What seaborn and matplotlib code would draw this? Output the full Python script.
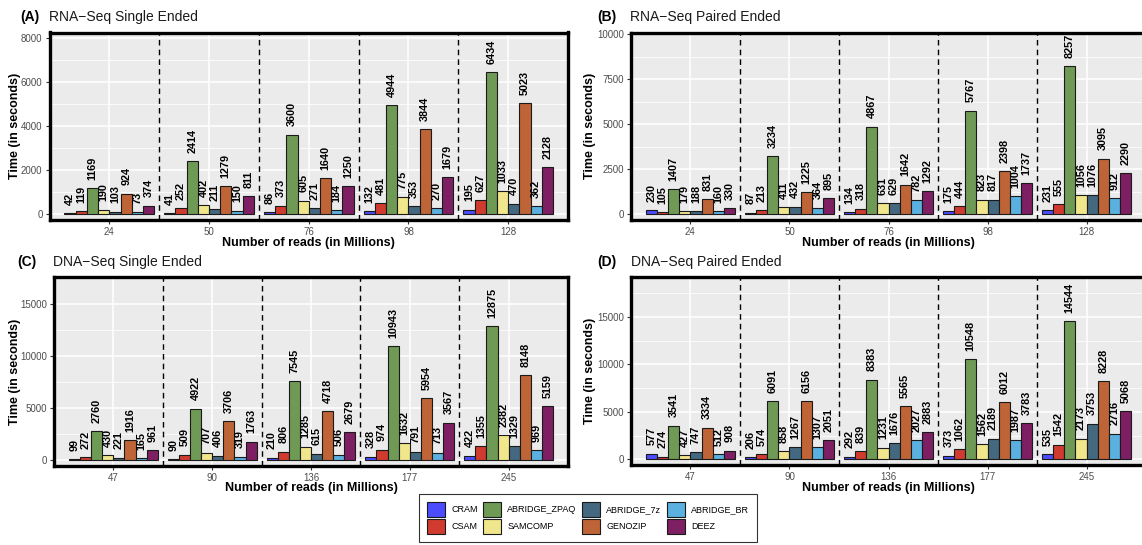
import numpy as np
import pandas as pd
import matplotlib
matplotlib.use("Agg")
import matplotlib.pyplot as plt
from matplotlib.patches import Patch
from matplotlib.ticker import MultipleLocator, FixedLocator
import seaborn as sns

# ---------------- data ----------------
tools = ["CRAM", "CSAM", "ABRIDGE_ZPAQ", "SAMCOMP", "ABRIDGE_7z", "GENOZIP", "ABRIDGE_BR", "DEEZ"]
colors = ["#4C4CFF", "#D13B2F", "#6F9A55", "#F0E68C", "#44687F", "#BF6436", "#5AB0DE", "#7E1F64"]

rna_reads = ["24", "50", "76", "98", "128"]
dna_reads = ["47", "90", "136", "177", "245"]

# values per read group, in tool order
rna_se = [
    [42, 119, 1169, 190, 103, 924, 73, 374],
    [41, 252, 2414, 402, 211, 1279, 150, 811],
    [86, 373, 3600, 605, 271, 1640, 184, 1250],
    [132, 481, 4944, 775, 353, 3844, 270, 1679],
    [195, 627, 6434, 1033, 470, 5023, 362, 2128],
]
rna_pe = [
    [230, 105, 1407, 179, 188, 831, 160, 330],
    [87, 213, 3234, 411, 432, 1225, 364, 895],
    [134, 318, 4867, 631, 629, 1642, 782, 1292],
    [175, 444, 5767, 823, 817, 2398, 1004, 1737],
    [231, 555, 8257, 1056, 1076, 3095, 912, 2290],
]
dna_se = [
    [99, 272, 2760, 430, 221, 1916, 165, 961],
    [90, 509, 4922, 707, 406, 3706, 319, 1763],
    [210, 806, 7545, 1285, 615, 4718, 506, 2679],
    [328, 974, 10943, 1632, 791, 5954, 713, 3567],
    [422, 1355, 12875, 2382, 1329, 8148, 969, 5159],
]
dna_pe = [
    [577, 274, 3541, 427, 747, 3334, 512, 908],
    [206, 574, 6091, 858, 1267, 6156, 1307, 2051],
    [292, 839, 8383, 1231, 1676, 5565, 2027, 2883],
    [373, 1062, 10548, 1562, 2189, 6012, 1987, 3783],
    [535, 1542, 14544, 2173, 3753, 8228, 2716, 5068],
]

tags = ["(A)", "(B)", "(C)", "(D)"]
titles = ["RNA\u2212Seq Single Ended", "RNA\u2212Seq Paired Ended",
          "DNA\u2212Seq Single Ended", "DNA\u2212Seq Paired Ended"]
xlabel = "Number of reads (in Millions)"
ylabel = "Time (in seconds)"

# ---------------- style ----------------
plt.rcParams["font.family"] = ["Liberation Sans", "DejaVu Sans"]

W, H = 1142, 545
fig = plt.figure(figsize=(W / 100, H / 100), dpi=100)


def px_axes(l, r, t, b):
    return fig.add_axes([l / W, 1 - b / H, (r - l) / W, (b - t) / H])


panels = [
    dict(data=rna_se, reads=rna_reads, box=(49.5, 568, 32.5, 220), ylim=(-272, 8245),
         ticks=[0, 2000, 4000, 6000, 8000], minor=1000, tagx=20, titx=49, ty=16.7,
         ylx=15, xly=243),
    dict(data=rna_pe, reads=rna_reads, box=(631, 1146, 32.5, 220), ylim=(-317, 10111),
         ticks=[0, 2500, 5000, 7500, 10000], minor=1250, tagx=597, titx=630, ty=16.7,
         ylx=590, xly=243),
    dict(data=dna_se, reads=dna_reads, box=(54, 568, 277, 466), ylim=(-580, 17575),
         ticks=[0, 5000, 10000, 15000], minor=2500, tagx=17, titx=53, ty=262.3,
         ylx=15, xly=487.5),
    dict(data=dna_pe, reads=dna_reads, box=(631, 1146, 277, 465), ylim=(-600, 19206),
         ticks=[0, 5000, 10000, 15000], minor=2500, tagx=597, titx=631, ty=262.3,
         ylx=590, xly=487.5),
]

for i, p in enumerate(panels):
    l, r, t, b = p["box"]
    ax = px_axes(l, r, t, b)
    rows = []
    for g, vals in zip(p["reads"], p["data"]):
        for tool, v in zip(tools, vals):
            rows.append({"reads": g, "tool": tool, "time": v})
    df = pd.DataFrame(rows)
    ax.set_facecolor("#EBEBEB")
    sns.barplot(data=df, x="reads", y="time", hue="tool", order=p["reads"],
                hue_order=tools, palette=colors, saturation=1, width=0.9,
                edgecolor="#1A1A1A", linewidth=0.8, ax=ax, legend=False,
                errorbar=None)
    for cont in ax.containers:
        ax.bar_label(cont, labels=[f"{v:.0f}" for v in cont.datavalues],
                     rotation=90, padding=6, fontsize=7.8, fontweight="bold",
                     color="black")
    for k in range(len(p["reads"]) - 1):
        ax.axvline(k + 0.5, color="black", linestyle=(0, (4, 3)), linewidth=1.0, zorder=3)
    ax.set_xlim(-0.6, len(p["reads"]) - 0.4)
    ax.set_ylim(*p["ylim"])
    ax.yaxis.set_major_locator(FixedLocator(p["ticks"]))
    ax.yaxis.set_minor_locator(MultipleLocator(p["minor"]))
    ax.set_axisbelow(True)
    ax.grid(which="major", color="white", linewidth=1.1)
    ax.grid(which="minor", axis="y", color="white", linewidth=0.55)
    ax.tick_params(axis="both", which="major", length=3, width=0.8, color="#333333",
                   labelsize=7, labelcolor="#4D4D4D", pad=2)
    ax.tick_params(axis="y", which="minor", length=0)
    for s in ax.spines.values():
        s.set_color("black")
        s.set_linewidth(2.4)
    width_px = r - l
    height_px = b - t
    ax.set_xlabel(xlabel, fontsize=9, fontweight="bold", color="black")
    ax.set_ylabel(ylabel, fontsize=9, fontweight="bold", color="black")
    ax.xaxis.label.set_va("center")
    ax.yaxis.label.set_va("center")
    ax.xaxis.set_label_coords(0.5, (b - p["xly"]) / height_px)
    ax.yaxis.set_label_coords((p["ylx"] - l) / width_px, 0.5)
    fig.text(p["tagx"] / W, 1 - p["ty"] / H, tags[i], fontsize=10, fontweight="bold",
             va="center", ha="left")
    fig.text(p["titx"] / W, 1 - p["ty"] / H, titles[i], fontsize=10,
             va="center", ha="left", color="#1A1A1A")

handles = [Patch(facecolor=c, edgecolor="#1A1A1A", linewidth=0.8) for c in colors]
leg = fig.legend(handles, tools, ncol=4, loc="upper left",
                 bbox_to_anchor=(419 / W, 1 - 494 / H), borderaxespad=0,
                 frameon=True, fancybox=False,
                 edgecolor="black", fontsize=6.5, handlelength=2.0, handleheight=2.3,
                 labelspacing=0.15, columnspacing=0.6, handletextpad=0.7, borderpad=0.85)
leg.get_frame().set_linewidth(0.8)

fig.savefig("out.png", dpi=100)
